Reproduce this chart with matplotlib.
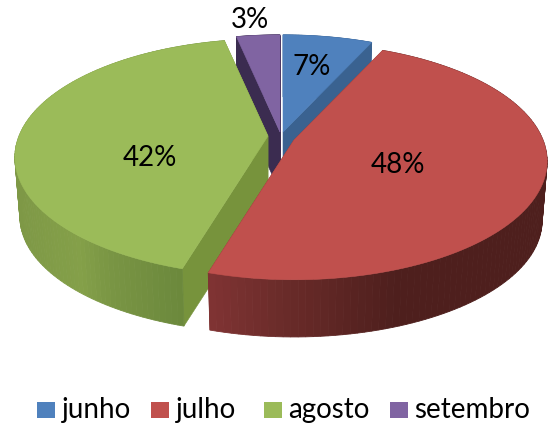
import numpy as np
import matplotlib
matplotlib.use('Agg')
import matplotlib.pyplot as plt
from matplotlib.patches import Polygon, Rectangle

# pie shares (labels round them)
months = ['junho', 'julho', 'agosto', 'setembro']
shares = [6.8, 47.8, 42.1, 3.3]

top_colors = ['#4F81BD', '#C0504D', '#9BBB59', '#8064A2']
cut_colors = ['#3A6290', '#7A2F2D', '#77933C', '#3B2C50']
# colour of the outer wall, as a function of screen x
wall_x = [[0, 558], [205, 280, 400, 558], [15, 80, 110, 185], [0, 558]]
wall_colors = [
    [(58, 98, 144), (58, 98, 144)],
    [(130, 52, 52), (108, 44, 42), (78, 31, 29), (78, 31, 29)],
    [(126, 152, 70), (132, 160, 73), (122, 150, 68), (107, 136, 60)],
    [(59, 44, 80), (59, 44, 80)],
]
apex = [(283, 132), (294, 140), (268, 136), (280, 132)]  # exploded centres, px
label_pos = [(312, 67), (398, 165), (150, 158), (250, 20)]

legend_box_x = [37, 151, 264, 390]
legend_text_x = [62, 176, 288, 414]

RX = 249.
RY = 114.6
K = 0.18       # perspective
DEPTH = 60.
SHRINK = 0.98  # bottom face is a bit further away


def project(t, cx, cy, bottom=False):
    u, v = np.sin(t), np.cos(t)
    s = 1 / (1 + K*v)
    x, y = RX*u*s, -RY*v*s
    if bottom:
        return cx + SHRINK*x, cy + SHRINK*y + DEPTH
    return cx + x, cy + y


fig = plt.figure(figsize=(5.58, 4.25), dpi=100)
ax = fig.add_axes([0, 0, 1, 1])
ax.set_xlim(0, 558)
ax.set_ylim(425, 0)
ax.axis('off')

edges = np.radians(np.concatenate([[0], np.cumsum(shares)]) * 3.6)

# far slices first, red sits over everything
for i in [3, 0, 2, 1]:
    cx, cy = apex[i]
    t = np.linspace(edges[i], edges[i+1], 120)
    xt, yt = project(t, cx, cy)
    xb, yb = project(t, cx, cy, bottom=True)

    # the two cut faces
    for k in [0, -1]:
        quad = [(cx, cy), (xt[k], yt[k]), (xb[k], yb[k]), (cx, cy + DEPTH)]
        ax.add_patch(Polygon(quad, closed=True, fc=cut_colors[i], ec=cut_colors[i], lw=0.4))

    # outer wall, in thin strips for the gradient
    for j in range(len(t)-1):
        rgb = [np.interp(xt[j], wall_x[i], [c[n] for c in wall_colors[i]])/255 for n in range(3)]
        quad = [(xt[j], yt[j]), (xt[j+1], yt[j+1]), (xb[j+1], yb[j+1]), (xb[j], yb[j])]
        ax.add_patch(Polygon(quad, closed=True, fc=rgb, ec=rgb, lw=0.6))

    # top face
    pts = [(cx, cy)] + list(zip(xt, yt))
    ax.add_patch(Polygon(pts, closed=True, fc=top_colors[i], ec=top_colors[i], lw=0.4))

for i in range(len(shares)):
    ax.text(label_pos[i][0], label_pos[i][1], '{}%'.format(round(shares[i])),
            fontsize=20, family='Lato', color='black', ha='center', va='center')

for i in range(len(months)):
    ax.add_patch(Rectangle((legend_box_x[i], 402), 18, 16, fc=top_colors[i], ec='none'))
    ax.text(legend_text_x[i], 410, months[i], fontsize=20, family='Lato',
            color='black', ha='left', va='center')

fig.savefig('out.png', dpi=100)
